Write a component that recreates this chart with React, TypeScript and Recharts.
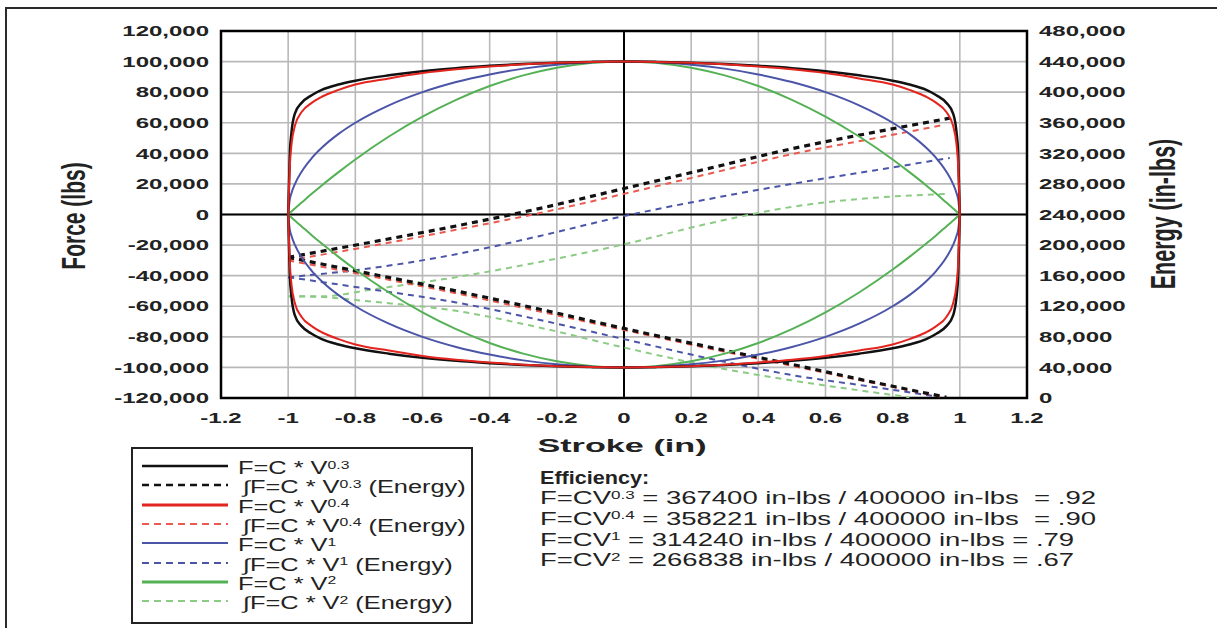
import React from 'react';
import { LineChart, Line, XAxis, YAxis, CartesianGrid, ReferenceLine, ReferenceArea } from 'recharts';

const FONT = '"Liberation Sans", Arial, Helvetica, sans-serif';

// axis ticks
const xTicks = [-1.2, -1, -0.8, -0.6, -0.4, -0.2, 0, 0.2, 0.4, 0.6, 0.8, 1, 1.2];
const forceTicks = [-120000, -100000, -80000, -60000, -40000, -20000, 0, 20000, 40000, 60000, 80000, 100000, 120000];
const energyTicks = [0, 40000, 80000, 120000, 160000, 200000, 240000, 280000, 320000, 360000, 400000, 440000, 480000];

// stroke positions for the force curves (in)
const strokePts = [-1, -0.995, -0.99, -0.98, -0.96, -0.93, -0.9, -0.85, -0.8, -0.7, -0.6, -0.5, -0.4, -0.3, -0.2, -0.1, 0,
  0.1, 0.2, 0.3, 0.4, 0.5, 0.6, 0.7, 0.8, 0.85, 0.9, 0.93, 0.96, 0.98, 0.99, 0.995, 1];

// force (lbs), upper and lower halves of each loop
const v03Up = [0, 40000, 54000, 66000, 73000, 78000, 81500, 85000, 87500, 91000, 93700, 95700, 97200, 98400, 99300, 99800, 100000,
  99800, 99300, 98400, 97200, 95700, 93700, 91000, 87500, 85000, 81500, 78000, 73000, 66000, 54000, 40000, 0];
const v03Down = [0, -40000, -54000, -66000, -73000, -78000, -81500, -85000, -87500, -91000, -93700, -95700, -97200, -98400, -99300, -99800, -100000,
  -99800, -99300, -98400, -97200, -95700, -93700, -91000, -87500, -85000, -81500, -78000, -73000, -66000, -54000, -40000, 0];
const v04Up = [0, 32000, 46000, 58000, 67000, 73000, 77000, 81500, 85000, 89000, 92500, 95000, 96800, 98200, 99200, 99800, 100000,
  99800, 99200, 98200, 96800, 95000, 92500, 89000, 85000, 81500, 77000, 73000, 67000, 58000, 46000, 32000, 0];
const v04Down = [0, -32000, -46000, -58000, -67000, -73000, -77000, -81500, -85000, -89000, -92500, -95000, -96800, -98200, -99200, -99800, -100000,
  -99800, -99200, -98200, -96800, -95000, -92500, -89000, -85000, -81500, -77000, -73000, -67000, -58000, -46000, -32000, 0];
const v1Up = [0, 10000, 14100, 19900, 28000, 36800, 43600, 52700, 60000, 71400, 80000, 86600, 91600, 95400, 98000, 99500, 100000,
  99500, 98000, 95400, 91600, 86600, 80000, 71400, 60000, 52700, 43600, 36800, 28000, 19900, 14100, 10000, 0];
const v1Down = [0, -10000, -14100, -19900, -28000, -36800, -43600, -52700, -60000, -71400, -80000, -86600, -91600, -95400, -98000, -99500, -100000,
  -99500, -98000, -95400, -91600, -86600, -80000, -71400, -60000, -52700, -43600, -36800, -28000, -19900, -14100, -10000, 0];
const v2Up = [0, 1000, 2000, 4000, 7800, 13500, 19000, 27700, 36000, 51000, 64000, 75000, 84000, 91000, 96000, 99000, 100000,
  99000, 96000, 91000, 84000, 75000, 64000, 51000, 36000, 27700, 19000, 13500, 7800, 4000, 2000, 1000, 0];
const v2Down = [0, -1000, -2000, -4000, -7800, -13500, -19000, -27700, -36000, -51000, -64000, -75000, -84000, -91000, -96000, -99000, -100000,
  -99000, -96000, -91000, -84000, -75000, -64000, -51000, -36000, -27700, -19000, -13500, -7800, -4000, -2000, -1000, 0];

// energy (in-lbs)
const e03UpX = [-1, -0.75, -0.5, -0.25, 0, 0.25, 0.5, 0.75, 0.97];
const e03Up = [184000, 204000, 225000, 248000, 274000, 300000, 326000, 348000, 366000];
const e03DownX = [-1, -0.75, -0.5, -0.25, 0, 0.25, 0.5, 0.75, 0.96];
const e03Down = [184000, 162000, 140000, 116000, 91000, 67000, 44000, 20000, 1000];
const e04UpX = [-1, -0.75, -0.5, -0.25, 0, 0.25, 0.5, 0.75, 0.95];
const e04Up = [180000, 199000, 220000, 242000, 267000, 293000, 319000, 340000, 357000];
const e04DownX = [-1, -0.75, -0.5, -0.25, 0, 0.25, 0.5, 0.75, 0.95];
const e04Down = [180000, 159000, 137000, 113000, 89000, 65000, 42000, 19000, 1000];
const e1UpX = [-1, -0.75, -0.5, -0.25, 0, 0.25, 0.5, 0.75, 0.97];
const e1Up = [158000, 170000, 188000, 212000, 238000, 260000, 280000, 298000, 314000];
const e1DownX = [-1, -0.75, -0.5, -0.25, 0, 0.25, 0.5, 0.75, 0.93];
const e1Down = [158000, 142000, 125000, 102000, 77000, 52000, 30000, 14000, 2000];
const e2UpX = [-1, -0.9, -0.75, -0.5, -0.25, 0, 0.25, 0.5, 0.75, 0.97];
const e2Up = [133000, 133000, 142000, 158000, 178000, 201000, 228000, 250000, 262000, 267000];
const e2DownX = [-1, -0.9, -0.75, -0.5, -0.25, 0, 0.25, 0.5, 0.7, 0.85];
const e2Down = [133000, 132000, 126000, 114000, 92000, 66000, 42000, 23000, 10000, 1000];

const efficiencyRows = [
  { exp: '0.3', text: ' = 367400 in-lbs / 400000 in-lbs  = .92' },
  { exp: '0.4', text: ' = 358221 in-lbs / 400000 in-lbs  = .90' },
  { exp: '1', text: ' = 314240 in-lbs / 400000 in-lbs = .79' },
  { exp: '2', text: ' = 266838 in-lbs / 400000 in-lbs = .67' },
];

const BLACK = '#111111';
const RED = '#e3241f';
const BLUE = '#4b55a8';
const GREEN = '#55b155';
const RED_DASH = '#ea5a4f';
const GREEN_DASH = '#8ccb84';

const pts = (xs: number[], ys: number[]) => xs.map((x, i) => ({ x, y: ys[i] }));

const legendItems = [
  { exp: '0.3', energy: false, color: BLACK, width: 2.5 },
  { exp: '0.3', energy: true, color: BLACK, width: 2.5 },
  { exp: '0.4', energy: false, color: RED, width: 3 },
  { exp: '0.4', energy: true, color: RED_DASH, width: 2 },
  { exp: '1', energy: false, color: BLUE, width: 2 },
  { exp: '1', energy: true, color: BLUE, width: 2 },
  { exp: '2', energy: false, color: GREEN, width: 3 },
  { exp: '2', energy: true, color: GREEN_DASH, width: 2 },
];

const TICK_SX = 1.6;

const XTick = (props: any) => {
  const { x, y, payload } = props;
  return (
    <g transform={`translate(${x},${y}) scale(${TICK_SX},1)`}>
      <text x={0} y={0} textAnchor="middle" dominantBaseline="central" fontSize={15} fontWeight="bold" fill="#222" fontFamily={FONT}>
        {String(payload.value)}
      </text>
    </g>
  );
};

const YTick = (props: any) => {
  const { x, y, payload, anchor } = props;
  return (
    <g transform={`translate(${x},${y}) scale(${TICK_SX},1)`}>
      <text x={0} y={0} textAnchor={anchor} dominantBaseline="central" fontSize={15} fontWeight="bold" fill="#222" fontFamily={FONT}>
        {Number(payload.value).toLocaleString('en-US')}
      </text>
    </g>
  );
};

const Sup = ({ children }: { children: React.ReactNode }) => (
  <span style={{ fontSize: '0.62em', position: 'relative', top: '-0.5em' }}>{children}</span>
);

export default function App() {
  const energyLine = (key: string, data: any[], color: string, width: number, dash: string) => (
    <Line key={key} yAxisId="energy" data={data} dataKey="y" type="monotone" stroke={color} strokeWidth={width}
      strokeDasharray={dash} dot={false} activeDot={false} isAnimationActive={false} />
  );
  const forceLine = (key: string, data: any[], color: string, width: number) => (
    <Line key={key} yAxisId="force" data={data} dataKey="y" type="monotone" stroke={color} strokeWidth={width}
      dot={false} activeDot={false} isAnimationActive={false} />
  );

  return (
    <div style={{ position: 'absolute', left: 0, top: 0, width: 1217, height: 628, overflow: 'hidden', background: '#fff', fontFamily: FONT }}>
      <div style={{ position: 'absolute', left: 5, top: 7, width: 1300, height: 700, border: '2px solid #2a2a2a' }} />

      <div style={{ position: 'absolute', left: 0, top: 0 }}>
        <LineChart width={1217} height={460} margin={{ top: 31, right: 60, left: 91, bottom: 0 }}>
          <CartesianGrid yAxisId="force" stroke="#b9b9b9" strokeWidth={1.6} />
          <XAxis type="number" dataKey="x" domain={[-1.2, 1.2]} ticks={xTicks} interval={0} allowDataOverflow
            axisLine={false} tickLine={false} tickSize={0} tickMargin={20} height={62} tick={<XTick />} />
          <YAxis yAxisId="force" type="number" domain={[-120000, 120000]} ticks={forceTicks} interval={0} allowDataOverflow
            axisLine={false} tickLine={false} tickSize={0} tickMargin={12} width={130} tick={<YTick anchor="end" />} />
          <YAxis yAxisId="energy" orientation="right" type="number" domain={[0, 480000]} ticks={energyTicks} interval={0} allowDataOverflow
            axisLine={false} tickLine={false} tickSize={0} tickMargin={12} width={130} tick={<YTick anchor="start" />} />
          <ReferenceLine yAxisId="force" x={0} stroke="#000" strokeWidth={2} />
          <ReferenceLine yAxisId="force" y={0} stroke="#000" strokeWidth={2} />
          <ReferenceArea yAxisId="force" x1={-1.2} x2={1.2} y1={-120000} y2={120000} fill="none" fillOpacity={0}
            stroke="#000" strokeWidth={2.5} />

          {energyLine('e2u', pts(e2UpX, e2Up), GREEN_DASH, 2, '6 5')}
          {energyLine('e2d', pts(e2DownX, e2Down), GREEN_DASH, 2, '6 5')}
          {energyLine('e1u', pts(e1UpX, e1Up), BLUE, 2, '6 5')}
          {energyLine('e1d', pts(e1DownX, e1Down), BLUE, 2, '6 5')}
          {energyLine('e04u', pts(e04UpX, e04Up), RED_DASH, 2, '6 5')}
          {energyLine('e04d', pts(e04DownX, e04Down), RED_DASH, 2, '6 5')}
          {energyLine('e03u', pts(e03UpX, e03Up), BLACK, 3.2, '6 5')}
          {energyLine('e03d', pts(e03DownX, e03Down), BLACK, 3.2, '6 5')}

          {forceLine('v2u', pts(strokePts, v2Up), GREEN, 2)}
          {forceLine('v2d', pts(strokePts, v2Down), GREEN, 2)}
          {forceLine('v1u', pts(strokePts, v1Up), BLUE, 2)}
          {forceLine('v1d', pts(strokePts, v1Down), BLUE, 2)}
          {forceLine('v03u', pts(strokePts, v03Up), BLACK, 2.5)}
          {forceLine('v03d', pts(strokePts, v03Down), BLACK, 2.5)}
          {forceLine('v04u', pts(strokePts, v04Up), RED, 2)}
          {forceLine('v04d', pts(strokePts, v04Down), RED, 2)}
        </LineChart>
      </div>

      {/* axis titles */}
      <div style={{ position: 'absolute', left: 73, top: 216, fontSize: 21, fontWeight: 'bold', color: '#222', whiteSpace: 'nowrap', lineHeight: 1,
        transform: 'translate(-50%, -50%) scale(1.6, 1) rotate(-90deg)' }}>Force (lbs)</div>
      <div style={{ position: 'absolute', left: 1165, top: 214, fontSize: 21.5, fontWeight: 'bold', color: '#222', whiteSpace: 'nowrap', lineHeight: 1,
        transform: 'translate(-50%, -50%) scale(1.6, 1) rotate(-90deg)' }}>Energy (in-lbs)</div>
      <div style={{ position: 'absolute', left: 622, top: 446, fontSize: 18.5, fontWeight: 'bold', color: '#222', whiteSpace: 'nowrap', lineHeight: 1,
        transform: 'translate(-50%, -50%) scale(1.85, 1)' }}>Stroke (in)</div>

      {/* legend */}
      <div style={{ position: 'absolute', left: 131, top: 447, width: 338, height: 173, border: '2px solid #222' }} />
      {legendItems.map((it, i) => {
        const cy = 468 + i * 19.3;
        return (
          <React.Fragment key={i}>
            <svg style={{ position: 'absolute', left: 142, top: cy - 6 }} width={88} height={8}>
              <line x1={0} y1={4} x2={86} y2={4} stroke={it.color} strokeWidth={it.width}
                strokeDasharray={it.energy ? '7 5' : undefined} />
            </svg>
            <div style={{ position: 'absolute', left: it.energy ? 243 : 238, top: cy - 10, height: 20, lineHeight: '20px',
              fontSize: 17.5, color: '#222', whiteSpace: 'pre', transform: 'scale(1.45, 1)', transformOrigin: 'left center' }}>
              {it.energy ? '\u222BF=C * V' : 'F=C * V'}<Sup>{it.exp}</Sup>{it.energy ? ' (Energy)' : ''}
            </div>
          </React.Fragment>
        );
      })}

      {/* efficiency */}
      <div style={{ position: 'absolute', left: 540, top: 468, height: 20, lineHeight: '20px', fontSize: 18, fontWeight: 'bold', color: '#222',
        whiteSpace: 'pre', transform: 'scale(1.2, 1)', transformOrigin: 'left center' }}>Efficiency:</div>
      {efficiencyRows.map((r, i) => (
        <div key={i} style={{ position: 'absolute', left: 540, top: 488 + i * 20.8, height: 20, lineHeight: '20px', fontSize: 17.5, color: '#222',
          whiteSpace: 'pre', transform: 'scale(1.57, 1)', transformOrigin: 'left center' }}>
          F=CV<Sup>{r.exp}</Sup>{r.text}
        </div>
      ))}
    </div>
  );
}
